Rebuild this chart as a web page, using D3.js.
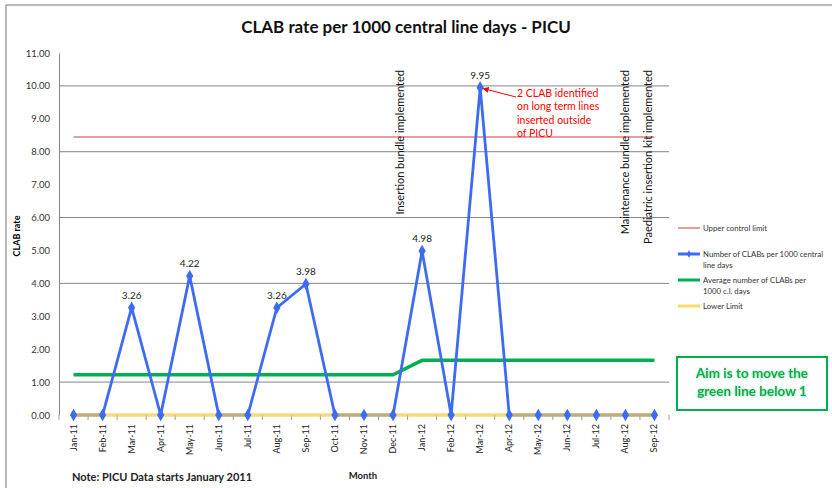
<!DOCTYPE html>
<html>
<head>
<meta charset="utf-8">
<script src="https://cdn.jsdelivr.net/npm/d3@7"></script>
<style>
  body { margin: 0; background: #fff; }
  svg { display: block; font-family: Lato, "Open Sans", sans-serif; }
</style>
</head>
<body>
<svg id="chart" width="832" height="488"></svg>
<script>
const months = ["Jan-11","Feb-11","Mar-11","Apr-11","May-11","Jun-11","Jul-11","Aug-11","Sep-11","Oct-11","Nov-11","Dec-11",
                "Jan-12","Feb-12","Mar-12","Apr-12","May-12","Jun-12","Jul-12","Aug-12","Sep-12"];
const clabRate = [0,0,3.26,0,4.22,0,0,3.26,3.98,0,0,0,4.98,0,9.95,0,0,0,0,0,0];
const avgRate = [1.22,1.22,1.22,1.22,1.22,1.22,1.22,1.22,1.22,1.22,1.22,1.22,
                 1.66,1.66,1.66,1.66,1.66,1.66,1.66,1.66,1.66];
const upperLimit = months.map(() => 8.45);
const lowerLimit = months.map(() => 0);
const yTicks = [0,1,2,3,4,5,6,7,8,9,10,11];
const gridValues = [1,4,6,8,10];
const events = [
  { month: "Dec-11", text: "Insertion bundle implemented" },
  { month: "Aug-12", text: "Maintenance bundle implemented" },
  { month: "Sep-12", text: "Paediatric insertion kit implemented" }
];
const noteLines = ["2 CLAB identified", "on long term lines", "inserted outside", "of PICU"];
const legendItems = [
  { lines: ["Upper control limit"], color: "#e07b7b", w: 1.5 },
  { lines: ["Number of CLABs per 1000 central", "line days"], color: "#3d6bf2", w: 3, marker: true },
  { lines: ["Average number of CLABs per", "1000 c.l. days"], color: "#00b050", w: 3 },
  { lines: ["Lower Limit"], color: "#ffd966", w: 3 }
];

const svg = d3.select("#chart");

// outer frame
svg.append("rect")
  .attr("x", 6).attr("y", 5)
  .attr("width", 840).attr("height", 500)
  .attr("fill", "none").attr("stroke", "#8c8c8c").attr("stroke-width", 1.2);

const x = d3.scaleBand().domain(months).range([59, 669]).padding(0);
const y = d3.scaleLinear().domain([0, 11]).range([415, 53]);
const cx = m => x(m) + x.bandwidth() / 2;

// title
svg.append("text")
  .attr("x", 406).attr("y", 33)
  .attr("text-anchor", "middle")
  .attr("font-size", 17).attr("font-weight", "bold").attr("fill", "#111")
  .text("CLAB rate per 1000 central line days - PICU");

// gridlines
svg.append("g").selectAll("line")
  .data(gridValues)
  .join("line")
  .attr("x1", 59).attr("x2", 669)
  .attr("y1", d => y(d)).attr("y2", d => y(d))
  .attr("stroke", "#858585").attr("stroke-width", 1);

// y axis
const yAxis = svg.append("g")
  .attr("transform", "translate(59,0)")
  .call(d3.axisLeft(y).tickValues(yTicks).tickFormat(d3.format(".2f")).tickSize(0).tickPadding(9));
yAxis.select(".domain").attr("stroke", "#858585");
yAxis.selectAll("text").attr("font-size", 9.5).attr("fill", "#333").attr("font-family", "Lato, sans-serif");

svg.append("text")
  .attr("transform", "translate(20,236) rotate(-90)")
  .attr("text-anchor", "middle")
  .attr("font-size", 9).attr("font-weight", "bold")
  .text("CLAB rate");

// x axis ticks (category boundaries)
const bounds = months.map(m => x(m)).concat([x.range()[1]]);
svg.append("g").selectAll("line")
  .data(bounds)
  .join("line")
  .attr("x1", d => d).attr("x2", d => d)
  .attr("y1", y(0)).attr("y2", y(0) + 5)
  .attr("stroke", "#999");

svg.append("g").selectAll("text")
  .data(months)
  .join("text")
  .attr("transform", d => `translate(${cx(d) + 3},${y(0) + 9}) rotate(-90)`)
  .attr("text-anchor", "end")
  .attr("font-size", 9).attr("fill", "#222")
  .text(d => d);

// upper control limit
const line = d3.line().x((d, i) => cx(months[i])).y(d => y(d));

svg.append("path").datum(upperLimit)
  .attr("d", line).attr("fill", "none")
  .attr("stroke", "#e07b7b").attr("stroke-width", 1.5);

// average
svg.append("path").datum(avgRate)
  .attr("d", line).attr("fill", "none")
  .attr("stroke", "#00b050").attr("stroke-width", 3.5);

// CLAB rate line
svg.append("path").datum(clabRate)
  .attr("d", line).attr("fill", "none")
  .attr("stroke", "#3d6bf2").attr("stroke-width", 2.8);

// lower limit
svg.append("path").datum(lowerLimit)
  .attr("d", line).attr("fill", "none")
  .attr("stroke", "#f7c948").attr("stroke-opacity", 0.7).attr("stroke-width", 3.5);

// markers
const diamond = d3.symbol().type(d3.symbolDiamond).size(45);
svg.append("g").selectAll("path")
  .data(clabRate)
  .join("path")
  .attr("d", diamond)
  .attr("transform", (d, i) => `translate(${cx(months[i])},${y(d)})`)
  .attr("fill", "#3d6bf2");

// data labels
svg.append("g").selectAll("text")
  .data(clabRate.map((v, i) => ({ v, m: months[i] })).filter(d => d.v > 0))
  .join("text")
  .attr("x", d => cx(d.m)).attr("y", d => y(d.v) - 9)
  .attr("text-anchor", "middle")
  .attr("font-size", 10).attr("fill", "#222")
  .text(d => d.v.toFixed(2));

// event annotations
svg.append("g").selectAll("text")
  .data(events)
  .join("text")
  .attr("transform", (d, i) => `translate(${[404, 629, 652][i]},70) rotate(-90)`)
  .attr("text-anchor", "end")
  .attr("font-size", 11).attr("fill", "#111")
  .text(d => d.text);

// red note + arrow
const peakX = cx("Mar-12"), peakY = y(9.95);
svg.append("defs").append("marker")
  .attr("id", "arr").attr("viewBox", "0 0 10 10")
  .attr("refX", 9).attr("refY", 5)
  .attr("markerWidth", 6).attr("markerHeight", 6)
  .attr("orient", "auto")
  .append("path").attr("d", "M0,0L10,5L0,10z").attr("fill", "#ff0000");
svg.append("line")
  .attr("x1", 516).attr("y1", 97)
  .attr("x2", peakX + 3).attr("y2", peakY + 1)
  .attr("stroke", "#ff0000").attr("stroke-width", 1)
  .attr("marker-end", "url(#arr)");
svg.append("g").selectAll("text")
  .data(noteLines)
  .join("text")
  .attr("x", 517).attr("y", (d, i) => 97 + i * 13.3)
  .attr("font-size", 10.5).attr("fill", "#ff0000")
  .text(d => d);

// legend
const lg = svg.append("g").attr("transform", "translate(678,228)");
let ly = 0;
legendItems.forEach(item => {
  const g = lg.append("g").attr("transform", `translate(0,${ly})`);
  g.append("line").attr("x1", 0).attr("x2", 22).attr("y1", 0).attr("y2", 0)
    .attr("stroke", item.color).attr("stroke-width", item.w);
  if (item.marker) {
    g.append("path").attr("d", d3.symbol().type(d3.symbolDiamond).size(16))
      .attr("transform", "translate(11,0)").attr("fill", item.color);
  }
  item.lines.forEach((t, j) => {
    g.append("text").attr("x", 25).attr("y", 2.5 + j * 11)
      .attr("font-size", 7.8).attr("fill", "#333").text(t);
  });
  ly += 26;
});

// aim box
const glow = svg.select("defs").append("filter").attr("id", "glow")
  .attr("x", "-10%").attr("y", "-30%").attr("width", "120%").attr("height", "160%");
glow.append("feGaussianBlur").attr("in", "SourceAlpha").attr("stdDeviation", 1.2).attr("result", "b");
glow.append("feFlood").attr("flood-color", "#7fcf9a").attr("result", "c");
glow.append("feComposite").attr("in", "c").attr("in2", "b").attr("operator", "in").attr("result", "s");
const fm = glow.append("feMerge");
fm.append("feMergeNode").attr("in", "s");
fm.append("feMergeNode").attr("in", "SourceGraphic");

svg.append("rect")
  .attr("x", 677).attr("y", 357).attr("width", 150).attr("height", 53)
  .attr("fill", "#fff").attr("stroke", "#00b050").attr("stroke-width", 2);
svg.append("g").attr("filter", "url(#glow)").selectAll("text")
  .data(["Aim is to move the", "green line below 1"])
  .join("text")
  .attr("x", 752).attr("y", (d, i) => 378 + i * 18)
  .attr("text-anchor", "middle")
  .attr("font-size", 13.5).attr("font-weight", "bold").attr("fill", "#00b050")
  .text(d => d);

// footer texts
svg.append("text")
  .attr("x", 72).attr("y", 481)
  .attr("font-size", 11).attr("font-weight", "bold").attr("fill", "#222")
  .text("Note: PICU Data starts January 2011");
svg.append("text")
  .attr("x", 363).attr("y", 479)
  .attr("text-anchor", "middle")
  .attr("font-size", 9.5).attr("font-weight", "bold").attr("fill", "#222")
  .text("Month");
</script>
</body>
</html>
